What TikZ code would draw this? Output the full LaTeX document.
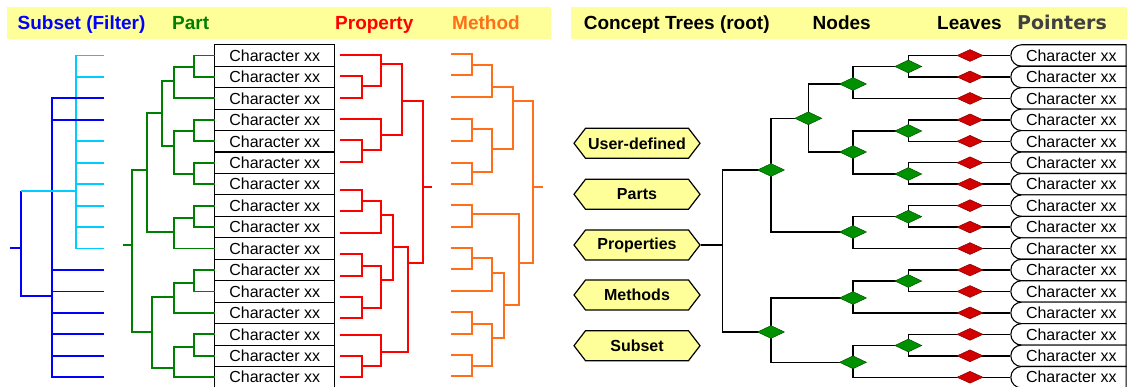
\documentclass[tikz,border=0pt]{standalone}
\usepackage{fontspec}
\usepackage{graphicx}
\setmainfont{Liberation Sans}
\newfontfamily\dejavu{DejaVu Sans}
\usetikzlibrary{shapes.geometric,shapes.symbols,shapes.misc}
\definecolor{bandy}{RGB}{255,255,153}
\definecolor{tgreen}{RGB}{0,128,0}
\definecolor{tblue}{RGB}{0,0,255}
\definecolor{tcyan}{RGB}{0,204,255}
\definecolor{tred}{RGB}{255,0,0}
\definecolor{torange}{RGB}{255,110,24}
\definecolor{dgreen}{RGB}{0,145,0}
\definecolor{dred}{RGB}{210,0,0}
\definecolor{ptrgray}{RGB}{64,64,64}
\pgfdeclarelayer{bg}
\pgfsetlayers{bg,main}
% joint of a dendrogram: vertical at x=#1 joining (#2,#3) and (#4,#5)
\newcommand\djn[5]{\draw (#2,#3) -| (#1,#5) -- (#4,#5);}
\tikzset{
  hdr/.style={anchor=base west, inner sep=0pt, font=\fontsize{19}{22}\selectfont\bfseries},
  cbox/.style={draw, line width=1.1pt, minimum width=120pt, minimum height=21.45pt, inner sep=0pt, font=\fontsize{16}{18}\selectfont},
  pbox/.style={draw, line width=1.1pt, fill=white, rounded rectangle, rounded rectangle right arc=none, minimum width=115.3pt, minimum height=21.45pt, inner sep=0pt, font=\fontsize{16}{18}\selectfont},
  hexlab/.style={signal, signal to=east and west, signal pointer angle=105, draw, line width=1.2pt, fill=bandy, minimum width=126pt, minimum height=30pt, inner sep=0pt, font=\fontsize{16}{18}\selectfont\bfseries},
  gdia/.style={diamond, fill=dgreen, draw=black!45!dgreen, line width=0.5pt, minimum width=27pt, minimum height=13pt, inner sep=0pt},
  rdia/.style={diamond, fill=dred, draw=black!35!dred, line width=0.5pt, minimum width=26pt, minimum height=12pt, inner sep=0pt},
  tree/.style={line width=1.8pt, line join=miter},
  conn/.style={line width=1.4pt, draw=black},
}
\begin{document}
\begin{tikzpicture}[x=1pt,y=-1pt]
\useasboundingbox (0,0) rectangle (1129,387);
\begin{pgfonlayer}{bg}
\fill[white] (0,0) rectangle (1129,387);
\end{pgfonlayer}
% header bands
\fill[bandy] (7.3,7.3) rectangle (551,39.3);
\fill[bandy] (571,7.3) rectangle (1127,39.3);
\node[hdr, text=tblue] (hsub) at (17.5,29.5) {Subset (Filter)};
\node[hdr, text=tgreen] (hpart) at (172,29.5) {Part};
\node[hdr, text=tred] (hprop) at (335,29.5) {Property};
\node[hdr, text=torange] (hmeth) at (452,29.5) {Method};
\node[hdr] (hconc) at (583.6,29.5) {Concept Trees (root)};
\node[hdr] (hnodes) at (812.5,29.5) {Nodes};
\node[hdr] (hleaves) at (937,29.5) {Leaves};
\node[hdr, text=ptrgray, font=\fontsize{19}{22}\selectfont\dejavu\bfseries] (hptr) at (1017,29.5) {Pointers};

% left table and right pointer boxes
\foreach \i/\y in {0/55.5,1/76.95,2/98.4,3/119.85,4/141.3,5/162.75,6/184.2,7/205.65,8/227.1,9/248.55,10/270,11/291.45,12/312.9,13/334.35,14/355.8,15/377.25}{
  \node[cbox] (c\i) at (274.7,\y) {Character xx};
  \node[pbox] (p\i) at (1069.35,\y) {\kern4pt Character xx};
  \node[rdia] (L\i) at (970,\y) {};
}

% Subset (Filter) tree
\begin{scope}[tree, color=tcyan]
  \draw (104,55.5) -| (76,248.55) -- (104,248.55);
  \foreach \y in {76.95,141.3,162.75,184.2,205.65,227.1} \draw (76,\y) -- (104,\y);
\end{scope}
\begin{scope}[tree, color=tblue]
  \draw (104,98.4) -| (52,377.25) -- (104,377.25);
  \foreach \y in {119.85,270,291.45,312.9,334.35,355.8} \draw (52,\y) -- (104,\y);
  \draw (52,296) -| (21,190.7);
  \draw (10,248.3) -- (21,248.3);
\end{scope}
\draw[tree, color=tcyan] (21,190.7) -- (76,190.7);

% Part tree
\begin{scope}[tree, color=tgreen]
  \djn{194}{214.7}{55.5}{214.7}{76.95}
  \djn{174}{194}{66.7}{214.7}{98.4}
  \djn{194}{214.7}{119.85}{214.7}{141.3}
  \djn{194}{214.7}{162.75}{214.7}{184.2}
  \djn{174}{194}{131}{194}{174}
  \djn{162}{174}{81}{174}{146}
  \djn{194}{214.7}{205.65}{214.7}{227.1}
  \djn{174}{194}{218}{214.7}{248.55}
  \djn{147}{162}{113}{174}{232}
  \djn{194}{214.7}{270}{214.7}{291.45}
  \djn{174}{194}{283}{214.7}{312.9}
  \djn{194}{214.7}{334.35}{214.7}{355.8}
  \djn{174}{194}{347}{214.7}{377.25}
  \djn{152}{174}{297}{174}{368}
  \djn{132}{147}{170}{152}{332}
  \draw (123,244.7) -- (132,244.7);
\end{scope}

% Property tree
\begin{scope}[tree, color=tred]
  \djn{362}{340}{76}{340}{97.7}
  \djn{381}{340}{54.7}{362}{86}
  \djn{362}{340}{140}{340}{162}
  \djn{381}{340}{119}{362}{150}
  \djn{402}{381}{64.3}{381}{135}
  \djn{362}{340}{190}{340}{210.7}
  \djn{381}{362}{200.7}{340}{232.7}
  \djn{362}{340}{254}{340}{275.7}
  \djn{362}{340}{296.7}{340}{318.3}
  \djn{381}{362}{265.7}{362}{308.3}
  \djn{392.7}{381}{215}{381}{280}
  \djn{362}{340}{356}{340}{376.7}
  \djn{381}{340}{335}{362}{366}
  \djn{408.3}{392.7}{247.3}{381}{352.3}
  \djn{422.7}{402}{100.7}{408.3}{262.7}
  \draw (422.7,187) -- (432,187);
\end{scope}

% Method tree
\begin{scope}[tree, color=torange]
  \djn{472.3}{450.7}{54}{450.7}{75}
  \djn{492.3}{472.3}{64.7}{450.7}{96.7}
  \djn{472.3}{450.7}{119}{450.7}{140.7}
  \djn{472.3}{450.7}{163.3}{450.7}{184}
  \djn{492.3}{472.3}{129.3}{472.3}{172}
  \djn{513.3}{492.3}{86.7}{492.3}{148.7}
  \djn{472.3}{450.7}{205}{450.7}{226.7}
  \djn{472.3}{450.7}{247.7}{450.7}{269.3}
  \djn{492.3}{472.3}{258.3}{450.7}{290.7}
  \djn{472.3}{450.7}{312.3}{450.7}{334}
  \djn{472.3}{450.7}{355}{450.7}{376}
  \djn{492.3}{472.3}{324}{472.3}{366}
  \djn{504}{492.3}{272.7}{492.3}{337.7}
  \djn{519}{472.3}{214.3}{504}{305}
  \djn{533.3}{513.3}{101}{519}{262.7}
  \draw (533.3,187.3) -- (542.7,187.3);
\end{scope}

% concept labels
\node[hexlab] (user) at (637,143.3) {User-defined};
\node[hexlab] (parts) at (637,194.3) {Parts};
\node[hexlab] (props) at (637,245) {Properties};
\node[hexlab] (meths) at (637,295) {Methods};
\node[hexlab] (subs) at (637,345.7) {Subset};

% concept tree nodes
\coordinate (R) at (722.3,245);
\node[gdia] (N9) at (771,170) {};
\node[gdia] (N14) at (771,332) {};
\node[gdia] (N6) at (808.3,118.3) {};
\node[gdia] (N2) at (853,84) {};
\node[gdia] (N5) at (853,152) {};
\node[gdia] (N7) at (853,232) {};
\node[gdia] (N11) at (853,298) {};
\node[gdia] (N13) at (853,362.3) {};
\node[gdia] (N1) at (908.3,66.5) {};
\node[gdia] (N3) at (908.3,131) {};
\node[gdia] (N4) at (908.3,174) {};
\node[gdia] (N8) at (908.3,216.7) {};
\node[gdia] (N10) at (908.3,281) {};
\node[gdia] (N12) at (908.3,345.5) {};

\begin{pgfonlayer}{bg}
\begin{scope}[conn]
  \draw (props.east) -- (R);
  \draw (N9.center) -| (R) |- (N14.center);
  \draw (N6.center) -| (N9.center) |- (N7.center);
  \draw (N2.center) -| (N6.center) |- (N5.center);
  \draw (N1.center) -| (N2.center) |- (L2.center);
  \draw (L0.center) -| (N1.center) |- (L1.center);
  \draw (N3.center) -| (N5.center) |- (N4.center);
  \draw (L3.center) -| (N3.center) |- (L4.center);
  \draw (L5.center) -| (N4.center) |- (L6.center);
  \draw (N8.center) -| (N7.center) |- (L9.center);
  \draw (L7.center) -| (N8.center) |- (L8.center);
  \draw (N11.center) -| (N14.center) |- (N13.center);
  \draw (N10.center) -| (N11.center) |- (L12.center);
  \draw (L10.center) -| (N10.center) |- (L11.center);
  \draw (N12.center) -| (N13.center) |- (L15.center);
  \draw (L13.center) -| (N12.center) |- (L14.center);
  \foreach \i in {0,...,15} \draw (L\i.center) -- (p\i.west);
\end{scope}
\end{pgfonlayer}
\end{tikzpicture}
\end{document}
